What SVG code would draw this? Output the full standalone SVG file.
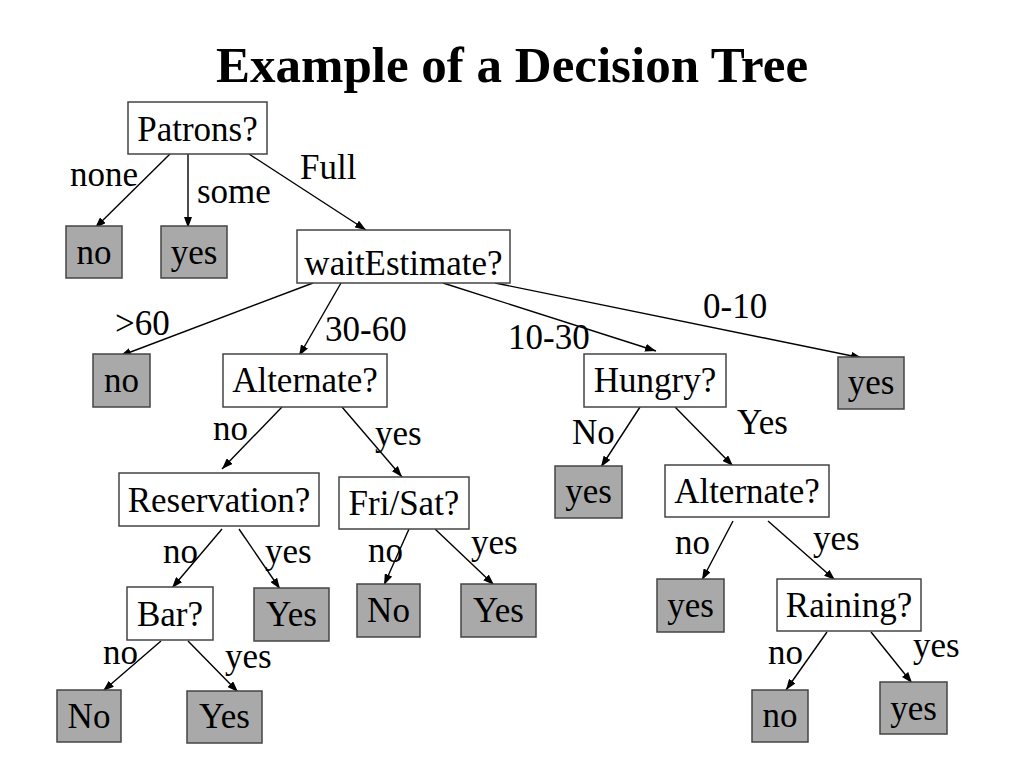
<svg xmlns="http://www.w3.org/2000/svg" width="1024" height="768" viewBox="0 0 1024 768">
<style>
text{font-family:"Liberation Serif","Times New Roman",serif;font-size:35px;fill:#000}
.title{font-size:51px;font-weight:bold}
.q rect{fill:#fff;stroke:#444;stroke-width:1.5}
.leaf rect{fill:#a9a9a9;stroke:#444;stroke-width:1.5}
.n text{text-anchor:middle}
#connectors line{stroke:#000;stroke-width:1.4;marker-end:url(#ah)}
</style>
<defs>
<marker id="ah" markerUnits="userSpaceOnUse" markerWidth="11" markerHeight="8" refX="11" refY="4" orient="auto">
<path d="M0,0 L11,4 L0,8 z" fill="#000"/>
</marker>
</defs>
<rect width="1024" height="768" fill="#fff"/>
<text class="title" x="512" y="82" text-anchor="middle">Example of a Decision Tree</text>

<g id="connectors">
<line x1="170" y1="154" x2="95" y2="228"/>
<line x1="188" y1="154" x2="188" y2="228"/>
<line x1="249" y1="154" x2="366" y2="230"/>
<line x1="313" y1="283" x2="120" y2="356"/>
<line x1="341" y1="283" x2="299" y2="356"/>
<line x1="443" y1="283" x2="656" y2="351"/>
<line x1="495" y1="283" x2="862" y2="358"/>
<line x1="282" y1="407" x2="222" y2="469"/>
<line x1="342" y1="407" x2="402" y2="477"/>
<line x1="640" y1="407" x2="601" y2="467"/>
<line x1="675" y1="407" x2="733" y2="466"/>
<line x1="222" y1="529" x2="172" y2="588"/>
<line x1="239" y1="529" x2="280" y2="589"/>
<line x1="409" y1="529" x2="384" y2="585"/>
<line x1="435" y1="529" x2="494" y2="585"/>
<line x1="161" y1="641" x2="103" y2="691"/>
<line x1="188" y1="641" x2="238" y2="692"/>
<line x1="733" y1="521" x2="702" y2="580"/>
<line x1="768" y1="521" x2="835" y2="580"/>
<line x1="827" y1="632" x2="786" y2="690"/>
<line x1="871" y1="632" x2="912" y2="683"/>
</g>

<g id="edge-labels">
<text x="70" y="186">none</text>
<text x="197" y="203">some</text>
<text x="300" y="179">Full</text>
<text x="115" y="335">&gt;60</text>
<text x="325" y="341">30-60</text>
<text x="508" y="349">10-30</text>
<text x="703" y="318">0-10</text>
<text x="213" y="440">no</text>
<text x="375" y="445">yes</text>
<text x="572" y="444">No</text>
<text x="737" y="434">Yes</text>
<text x="163" y="563">no</text>
<text x="265" y="563">yes</text>
<text x="368" y="562">no</text>
<text x="471" y="554">yes</text>
<text x="103" y="664">no</text>
<text x="225" y="668">yes</text>
<text x="675" y="554">no</text>
<text x="813" y="550">yes</text>
<text x="768" y="664">no</text>
<text x="913" y="657">yes</text>
</g>

<g id="patrons" class="n q"><rect x="128" y="102" width="139" height="52"/><text x="197.5" y="141">Patrons?</text></g>
<g id="leaf-none" class="n leaf"><rect x="66" y="226" width="56" height="52"/><text x="94" y="264">no</text></g>
<g id="leaf-some" class="n leaf"><rect x="161" y="226" width="66" height="52"/><text x="194" y="264">yes</text></g>
<g id="wait" class="n q"><rect x="297" y="230" width="213" height="53"/><text x="403.5" y="275">waitEstimate?</text></g>
<g id="leaf-gt60" class="n leaf"><rect x="93" y="354" width="57" height="53"/><text x="121.5" y="392">no</text></g>
<g id="alt1" class="n q"><rect x="223" y="354" width="164" height="53"/><text x="305" y="392">Alternate?</text></g>
<g id="hungry" class="n q"><rect x="584" y="354" width="142" height="53"/><text x="655" y="392">Hungry?</text></g>
<g id="leaf-0-10" class="n leaf"><rect x="838" y="357" width="66" height="52"/><text x="871" y="394">yes</text></g>
<g id="reservation" class="n q"><rect x="119" y="473" width="200" height="53"/><text x="219" y="512">Reservation?</text></g>
<g id="frisat" class="n q"><rect x="339" y="477" width="130" height="52"/><text x="404" y="515">Fri/Sat?</text></g>
<g id="leaf-hungry-no" class="n leaf"><rect x="555" y="466" width="67" height="52"/><text x="588.5" y="503">yes</text></g>
<g id="alt2" class="n q"><rect x="665" y="465" width="164" height="52"/><text x="747" y="503">Alternate?</text></g>
<g id="bar" class="n q"><rect x="127" y="587" width="86" height="53"/><text x="170" y="626">Bar?</text></g>
<g id="leaf-res-yes" class="n leaf"><rect x="254" y="588" width="75" height="53"/><text x="291.5" y="626">Yes</text></g>
<g id="leaf-fs-no" class="n leaf"><rect x="357" y="584" width="63" height="53"/><text x="388.5" y="622">No</text></g>
<g id="leaf-fs-yes" class="n leaf"><rect x="461" y="584" width="75" height="53"/><text x="498.5" y="622">Yes</text></g>
<g id="leaf-alt2-no" class="n leaf"><rect x="657" y="579" width="67" height="53"/><text x="690.5" y="617">yes</text></g>
<g id="raining" class="n q"><rect x="777" y="579" width="144" height="52"/><text x="849" y="617">Raining?</text></g>
<g id="leaf-bar-no" class="n leaf"><rect x="57" y="690" width="64" height="52"/><text x="89" y="728">No</text></g>
<g id="leaf-bar-yes" class="n leaf"><rect x="187" y="691" width="75" height="52"/><text x="224.5" y="728">Yes</text></g>
<g id="leaf-rain-no" class="n leaf"><rect x="752" y="690" width="56" height="52"/><text x="780" y="727">no</text></g>
<g id="leaf-rain-yes" class="n leaf"><rect x="880" y="682" width="67" height="52"/><text x="913.5" y="720">yes</text></g>
</svg>
